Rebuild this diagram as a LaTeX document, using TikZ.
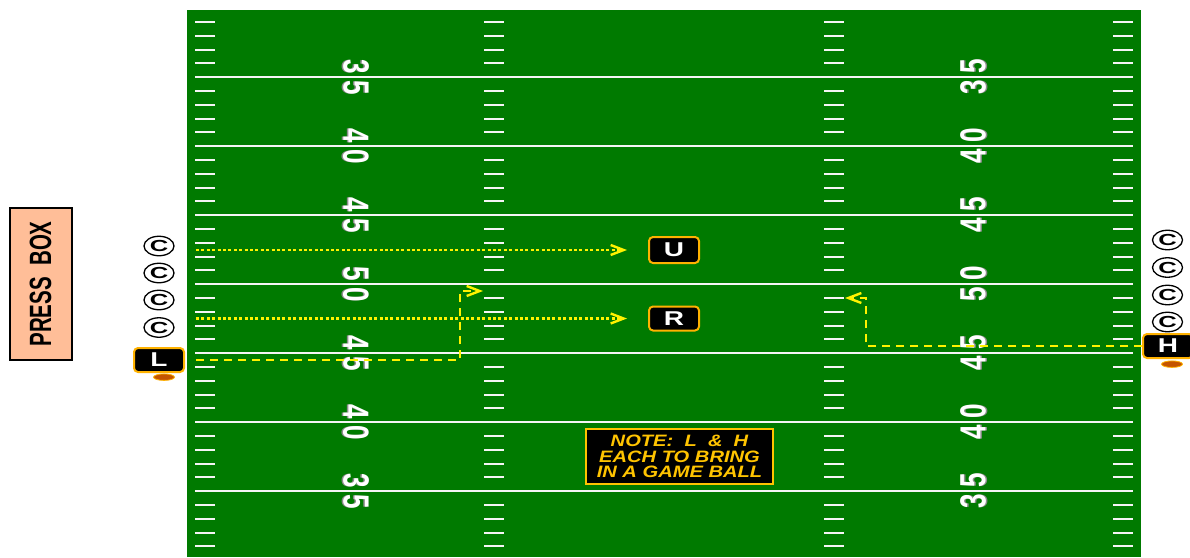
\documentclass[tikz,border=0pt]{standalone}
\usepackage{fontspec}
\setmainfont{Liberation Sans}
\usepackage{graphicx}
\usetikzlibrary{arrows.meta, positioning, calc, shapes.geometric}

\definecolor{turf}{RGB}{0,122,0}
\definecolor{flaggold}{RGB}{255,178,0}
\definecolor{notegold}{RGB}{255,196,0}
\definecolor{pressfill}{RGB}{255,190,152}
\definecolor{whistle}{RGB}{196,84,0}
\definecolor{chalk}{RGB}{245,245,245}

% 横に引き伸ばした文字
\newcommand{\wide}[2]{\scalebox{#1}[1]{#2}}
\newcommand{\tall}[2]{\scalebox{1}[#1]{#2}}

\begin{document}
\begin{tikzpicture}[x=1pt, y=-1pt,
    every node/.style={inner sep=0pt},
    official/.style={draw=flaggold, fill=black, line width=2pt, rounded corners=4pt,
        minimum width=50pt, minimum height=24pt, text=white,
        font=\bfseries\fontsize{20}{20}\selectfont},
    crew/.style={ellipse, draw=black, fill=white, line width=1.3pt,
        minimum width=30pt, minimum height=19.5pt, font=\bfseries\fontsize{16}{16}\selectfont},
    whistlemark/.style={ellipse, draw=flaggold, fill=whistle, line width=0.8pt,
        minimum width=21pt, minimum height=6.5pt},
    numeral/.style={text=white, font=\bfseries\fontsize{26}{26}\selectfont},
    numshadow/.style={text=black!45, font=\bfseries\fontsize{26}{26}\selectfont},
    route/.style={draw=yellow, line width=2.4pt, -{Straight Barb[length=13pt, width=10pt]}},
    dotroute/.style={route, dash pattern=on 3pt off 2.4pt},
    dashroute/.style={route, dash pattern=on 8pt off 6pt}]

    \useasboundingbox (0,0) rectangle (1190,557);

    % フィールド
    \fill[turf] (187,10) rectangle (1141,557);
    \foreach \yy in {77.2,146.2,...,491.2}
        \draw[chalk, line width=2.2pt] (195,\yy) -- (1133,\yy);
    \foreach \k in {0,...,38} {
        \pgfmathsetmacro{\yy}{22+13.8*\k}
        \foreach \xx in {195,484,824,1113}
            \draw[chalk, line width=2pt] (\xx,\yy) -- ++(20,0);
    }

    % ヤード数字
    \foreach \yy/\a/\b [count=\i] in {77.2/3/5, 146.2/4/0, 215.2/4/5, 284.2/5/0,
                                      353.2/4/5, 422.2/4/0, 491.2/3/5} {
        \node[numshadow, rotate=-90] at (354.5,\yy-10.5) {\tall{1.4}{\a}};
        \node[numshadow, rotate=-90] at (354.5,\yy+10.5) {\tall{1.4}{\b}};
        \node[numeral, rotate=-90] (ylt\i) at (356,\yy-10.5) {\tall{1.4}{\a}};
        \node[numeral, rotate=-90] (ylb\i) at (356,\yy+10.5) {\tall{1.4}{\b}};
        \node[numshadow, rotate=90] at (974.5,\yy+10.5) {\tall{1.4}{\a}};
        \node[numshadow, rotate=90] at (974.5,\yy-10.5) {\tall{1.4}{\b}};
        \node[numeral, rotate=90] (yrb\i) at (973,\yy+10.5) {\tall{1.4}{\a}};
        \node[numeral, rotate=90] (yrt\i) at (973,\yy-10.5) {\tall{1.4}{\b}};
    }

    % 記者席とクルー
    \node[draw=black, fill=pressfill, line width=2pt, minimum width=62pt, minimum height=152pt]
        (press) at (40.5,284) {};
    \node[rotate=90, font=\bfseries\fontsize{20.5}{20.5}\selectfont] (presstext) at (press.center)
        {\tall{1.5}{PRESS\ \ BOX}};

    \node[crew] (cl1) at (159,246) {\wide{1.6}{C}};
    \node[crew] (cl2) at (159,273) {\wide{1.6}{C}};
    \node[crew] (cl3) at (159,300) {\wide{1.6}{C}};
    \node[crew] (cl4) at (159,327.5) {\wide{1.6}{C}};
    \node[crew] (cr1) at (1167.5,240) {\wide{1.6}{C}};
    \node[crew] (cr2) at (1167.5,267.5) {\wide{1.6}{C}};
    \node[crew] (cr3) at (1167.5,295) {\wide{1.6}{C}};
    \node[crew] (cr4) at (1167.5,322) {\wide{1.6}{C}};

    % 審判
    \node[official] (L) at (159,360) {\wide{1.4}{L}};
    \node[official] (H) at (1168,346) {\wide{1.4}{H}};
    \node[official, minimum height=26pt] (U) at (674,250) {\wide{1.4}{U}};
    \node[official] (R) at (674,318.5) {\wide{1.4}{R}};
    \node[whistlemark, below=0.5pt of L, xshift=5pt] (Lw) {};
    \node[whistlemark, below=1.5pt of H, xshift=4pt] (Hw) {};

    \node[draw=notegold, fill=black, line width=2pt, minimum width=187pt, minimum height=55pt,
          align=center, text=notegold, font=\bfseries\itshape\fontsize{16.5}{15.5}\selectfont]
        (note) at (679.5,456.5) {\wide{1.22}{NOTE:\ \ L\ \ \&\ \ H}\\
                                 \wide{1.22}{EACH TO BRING}\\
                                 \wide{1.22}{IN A GAME BALL}};

    % 移動
    \coordinate (edgeL) at (196,0);
    \coordinate (Lturn) at (460,0);
    \coordinate (Lend) at (483,291);
    \coordinate (Hturn) at (866,0);
    \coordinate (Hend) at (845,298);

    \path[dotroute, shorten >=21pt] (U.west -| edgeL) -- (U.west);
    \path[dotroute, shorten >=21pt] (R.west -| edgeL) -- (R.west);
    \path[dashroute, shorten <=11pt] (L.east) -- (L.east -| Lturn) -- (Lend -| Lturn) -- (Lend);
    \path[dashroute] (H.west) -- (H.west -| Hturn) -- (Hend -| Hturn) -- (Hend);
\end{tikzpicture}
\end{document}
